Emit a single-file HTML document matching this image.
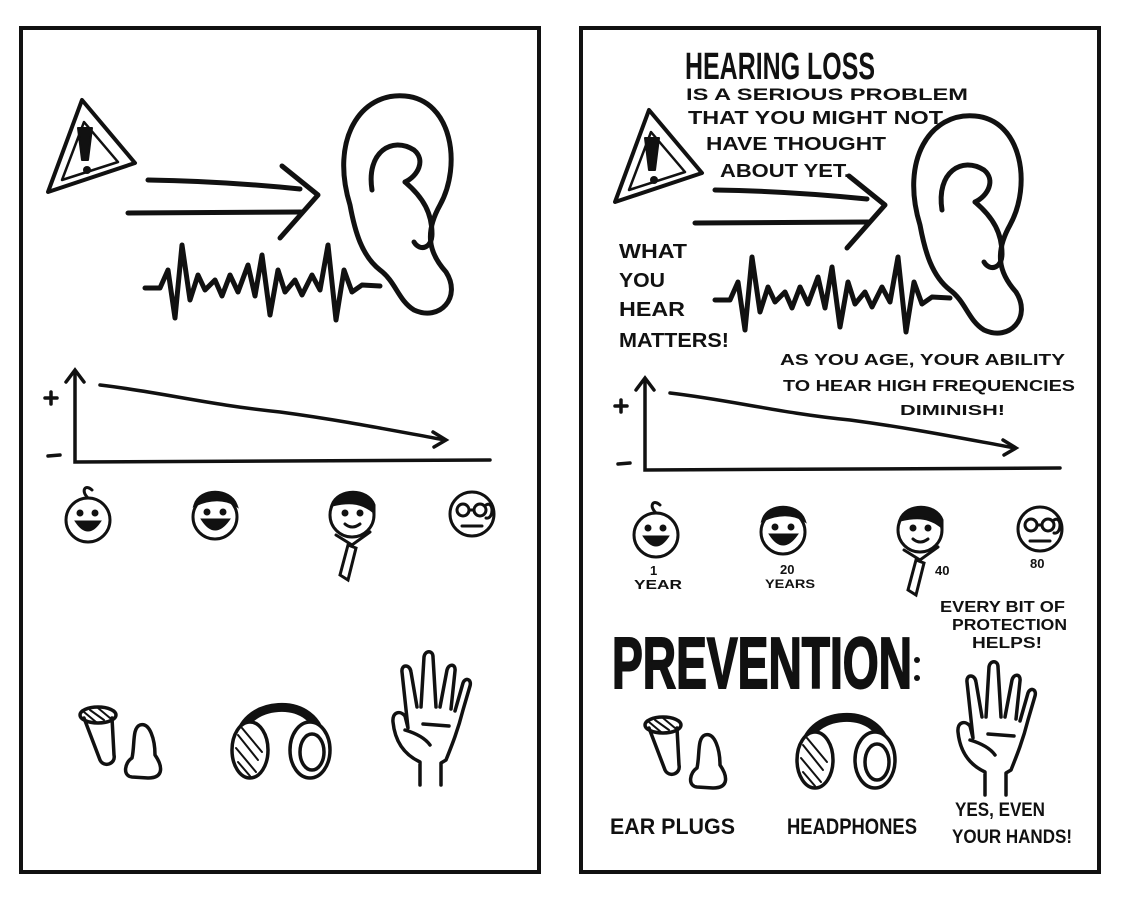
<!DOCTYPE html>
<html><head><meta charset="utf-8"><style>
html,body{margin:0;padding:0;background:#fff;}
svg{display:block;}
text{font-family:"Liberation Sans",sans-serif;fill:#111;font-weight:bold;}
</style></head><body>
<svg width="1133" height="916" viewBox="0 0 1133 916" xmlns="http://www.w3.org/2000/svg">
<defs>
<g id="tri" fill="none" stroke="#111" stroke-width="4" stroke-linejoin="round">
<path d="M48,192 L82,100 L135,163 Z"/>
<path d="M62,180 L84,122 L118,162 Z" stroke-width="2.5"/>
<path d="M78,128 L92,128 L88,160 L82,160 Z" fill="#111" stroke-width="2"/>
<circle cx="87" cy="170" r="4" fill="#111" stroke="none"/>
</g>
<g id="arrows" fill="none" stroke="#111" stroke-width="5" stroke-linecap="round" stroke-linejoin="round">
<path d="M148,180 Q220,181 300,189"/>
<path d="M128,213 L302,212"/>
<path d="M282,166 L318,195 L280,238"/>
</g>
<g id="ear" fill="none" stroke="#111" stroke-width="5" stroke-linecap="round">
<path d="M350,205 C330,140 360,92 405,96 C452,100 462,165 440,205 C425,232 428,252 446,272 C462,297 440,322 414,310 C398,300 396,282 380,270 C362,256 355,232 350,205"/>
<path d="M372,190 C366,152 392,136 414,150 C426,160 418,176 405,182"/>
<path d="M405,182 C424,198 432,214 432,234 C432,248 420,252 414,242"/>
</g>
<g id="wave" fill="none" stroke="#111" stroke-width="5" stroke-linejoin="round" stroke-linecap="round">
<polyline points="145,288 160,288 168,270 175,318 182,245 190,300 198,275 205,290 215,280 222,296 230,275 238,292 248,265 255,296 262,255 270,315 278,270 285,292 295,280 302,295 312,275 320,290 328,245 336,320 344,270 352,292 362,285 380,286"/>
</g>
<g id="graph" fill="none" stroke="#111" stroke-width="3.5" stroke-linecap="round">
<path d="M75,372 L75,462 L490,460"/>
<path d="M66,382 L75,370 L84,382"/>
<path d="M100,385 C160,392 210,405 280,412 C340,420 390,430 445,440"/>
<path d="M433,432 L446,440 L434,447"/>
<path d="M45,398 L57,398 M51,392 L51,404"/>
<path d="M48,456 L60,455"/>
</g>
<g id="faces" fill="none" stroke="#111" stroke-width="3" stroke-linecap="round">
<circle cx="88" cy="520" r="22"/>
<path d="M88,498 C80,490 86,484 92,490" />
<circle cx="80" cy="513" r="2" fill="#111"/><circle cx="95" cy="513" r="2" fill="#111"/>
<path d="M77,522 Q88,538 99,522 Z" fill="#111"/>
<circle cx="215" cy="517" r="22"/>
<path d="M195,505 C200,488 230,488 236,505 C225,498 210,498 195,505 Z" fill="#111"/>
<circle cx="207" cy="512" r="2" fill="#111"/><circle cx="223" cy="512" r="2" fill="#111"/>
<path d="M203,520 Q215,538 228,520 Z" fill="#111"/>
<circle cx="352" cy="515" r="22"/>
<path d="M332,505 C338,488 368,488 374,505 L374,512 C360,500 345,502 332,505 Z" fill="#111"/>
<circle cx="345" cy="513" r="2" fill="#111"/><circle cx="360" cy="513" r="2" fill="#111"/>
<path d="M345,524 Q352,530 360,524"/>
<path d="M336,535 L352,545 L370,532"/>
<path d="M348,545 L340,575 L348,580 L356,548 Z"/>
<circle cx="472" cy="514" r="22"/>
<circle cx="463" cy="510" r="6"/><circle cx="480" cy="510" r="6"/>
<path d="M469,510 L474,510 M486,505 C494,500 494,520 486,518" />
<path d="M462,526 L482,526"/>
</g>
<g id="tools" fill="none" stroke="#111" stroke-width="3.5" stroke-linecap="round" stroke-linejoin="round">
<ellipse cx="98" cy="715" rx="18" ry="8"/>
<path d="M84,718 L100,760 C104,768 116,764 114,755 L112,718" />
<path d="M84,712 L96,722 M90,710 L104,720 M98,708 L110,718" stroke-width="2"/>
<path d="M140,725 C150,722 155,740 155,755 C162,765 165,778 148,778 L132,777 C122,776 125,762 132,758 C135,745 132,728 140,725 Z"/>
<path d="M240,745 C235,700 320,690 322,745" stroke-width="9"/>
<ellipse cx="250" cy="750" rx="18" ry="28" fill="#fff"/>
<path d="M238,735 L258,760 M236,748 L256,772 M242,728 L262,752 M238,762 L250,776" stroke-width="2"/>
<ellipse cx="310" cy="750" rx="20" ry="28" fill="#fff"/>
<ellipse cx="312" cy="752" rx="12" ry="18"/>
<path d="M420,785 L420,762 C405,755 395,742 393,722 C392,712 400,710 405,716 L408,728 L402,672 C401,664 410,664 411,672 L417,707 M421,707 L424,657 C425,650 433,650 433,657 L436,707 M440,707 L447,670 C449,663 456,664 455,671 L451,709 M455,711 L463,683 C465,677 472,679 470,686 L463,710 C458,730 452,745 446,760 L441,763 L441,785"/>
<path d="M423,724 L449,726"/>
<path d="M405,730 C415,733 425,738 430,745"/>
</g>
</defs>

<rect x="21" y="28" width="518" height="844" fill="none" stroke="#111" stroke-width="4"/>
<rect x="581" y="28" width="518" height="844" fill="none" stroke="#111" stroke-width="4"/>

<use href="#tri"/><use href="#arrows"/><use href="#ear"/><use href="#wave"/><use href="#graph"/><use href="#faces"/><use href="#tools"/>

<use href="#tri" transform="translate(567,10)"/>
<use href="#arrows" transform="translate(567,10)"/>
<use href="#ear" transform="translate(570,20)"/>
<use href="#wave" transform="translate(570,12)"/>
<use href="#graph" transform="translate(570,8)"/>
<use href="#faces" transform="translate(568,15)"/>
<use href="#tools" transform="translate(565,10)"/>

<text x="685" y="79" font-size="38" textLength="190" lengthAdjust="spacingAndGlyphs">HEARING LOSS</text>
<text x="686" y="100" font-size="17" textLength="282" lengthAdjust="spacingAndGlyphs">IS A SERIOUS PROBLEM</text>
<text x="688" y="124" font-size="18" textLength="255" lengthAdjust="spacingAndGlyphs">THAT YOU MIGHT NOT</text>
<text x="706" y="150" font-size="18" textLength="180" lengthAdjust="spacingAndGlyphs">HAVE THOUGHT</text>
<text x="720" y="177" font-size="18" textLength="130" lengthAdjust="spacingAndGlyphs">ABOUT YET.</text>

<text x="619" y="258" font-size="20" textLength="68" lengthAdjust="spacingAndGlyphs">WHAT</text>
<text x="619" y="287" font-size="20" textLength="46" lengthAdjust="spacingAndGlyphs">YOU</text>
<text x="619" y="316" font-size="20" textLength="66" lengthAdjust="spacingAndGlyphs">HEAR</text>
<text x="619" y="347" font-size="20" textLength="110" lengthAdjust="spacingAndGlyphs">MATTERS!</text>

<text x="780" y="365" font-size="16" textLength="285" lengthAdjust="spacingAndGlyphs">AS YOU AGE, YOUR ABILITY</text>
<text x="783" y="391" font-size="16" textLength="292" lengthAdjust="spacingAndGlyphs">TO HEAR HIGH FREQUENCIES</text>
<text x="900" y="415" font-size="15" textLength="105" lengthAdjust="spacingAndGlyphs">DIMINISH!</text>

<text x="650" y="575" font-size="13">1</text>
<text x="634" y="589" font-size="13" textLength="48" lengthAdjust="spacingAndGlyphs">YEAR</text>
<text x="780" y="574" font-size="13">20</text>
<text x="765" y="588" font-size="12" textLength="50" lengthAdjust="spacingAndGlyphs">YEARS</text>
<text x="935" y="575" font-size="13">40</text>
<text x="1030" y="568" font-size="13">80</text>

<text x="940" y="612" font-size="16" textLength="125" lengthAdjust="spacingAndGlyphs">EVERY BIT OF</text>
<text x="952" y="630" font-size="16" textLength="115" lengthAdjust="spacingAndGlyphs">PROTECTION</text>
<text x="972" y="648" font-size="16" textLength="70" lengthAdjust="spacingAndGlyphs">HELPS!</text>

<text x="612" y="688" font-size="72" textLength="300" lengthAdjust="spacingAndGlyphs" font-weight="normal" stroke="#111" stroke-width="2">PREVENTION</text>
<circle cx="917" cy="660" r="3" fill="#111"/><circle cx="917" cy="678" r="3" fill="#111"/>

<text x="610" y="834" font-size="22" textLength="125" lengthAdjust="spacingAndGlyphs" font-weight="normal">EAR PLUGS</text>
<text x="787" y="834" font-size="22" textLength="130" lengthAdjust="spacingAndGlyphs" font-weight="normal">HEADPHONES</text>
<text x="955" y="816" font-size="19" textLength="90" lengthAdjust="spacingAndGlyphs" font-weight="normal">YES, EVEN</text>
<text x="952" y="843" font-size="19" textLength="120" lengthAdjust="spacingAndGlyphs" font-weight="normal">YOUR HANDS!</text>
</svg>
</body></html>
